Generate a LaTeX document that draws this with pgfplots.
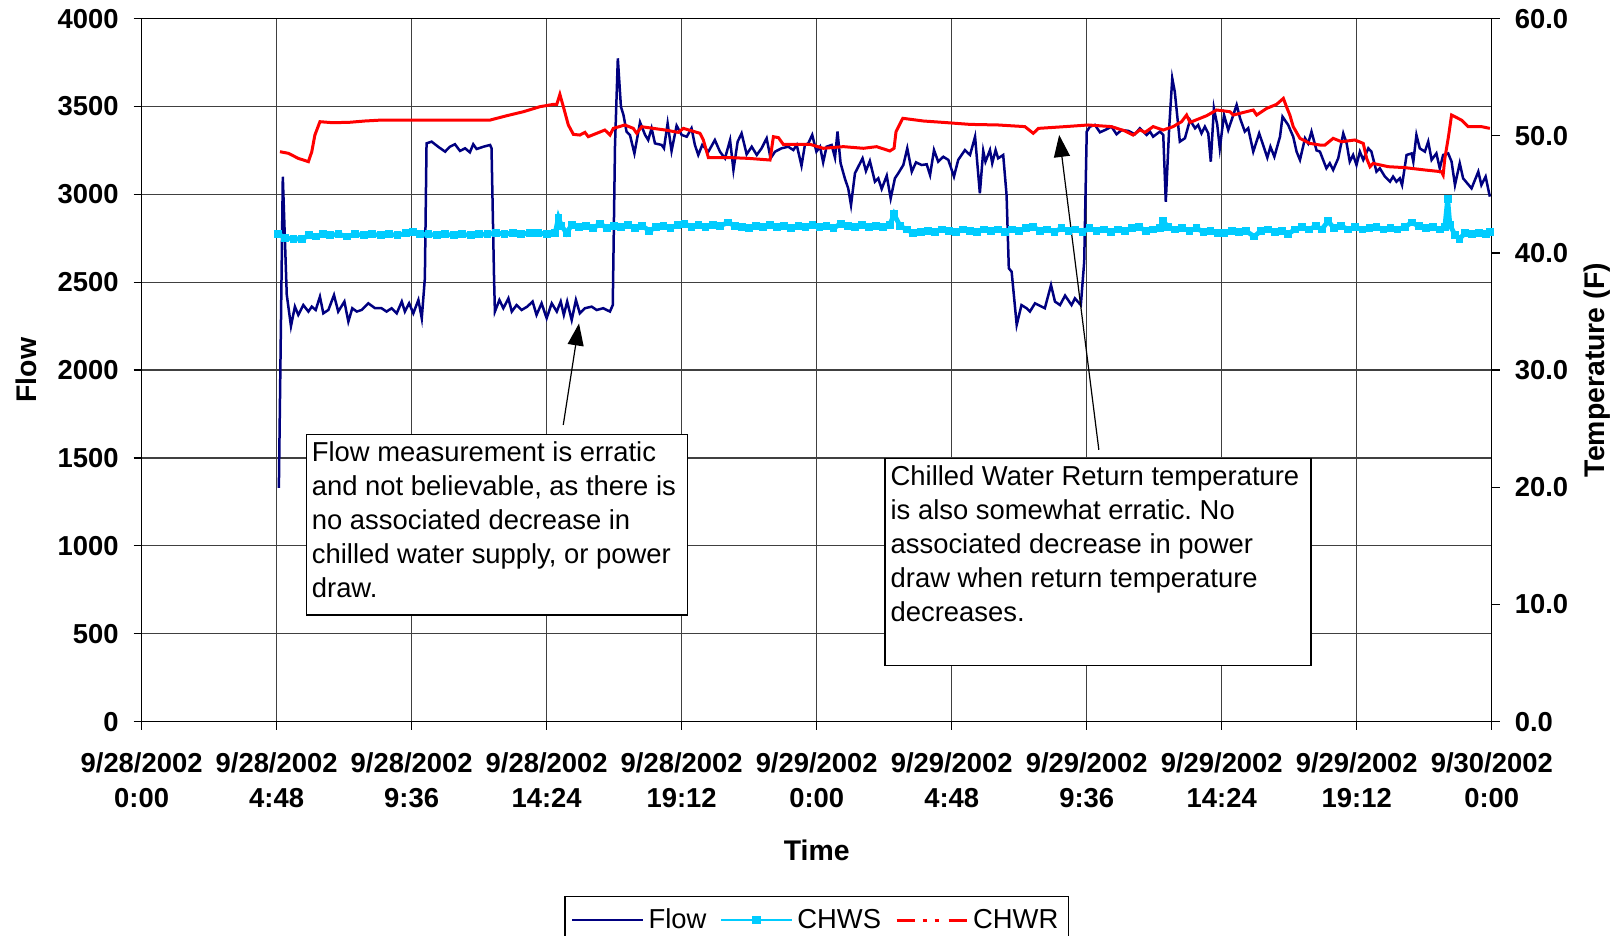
\documentclass[border=0pt]{standalone}
\usepackage{fontspec}
\setmainfont{Liberation Sans}
\usepackage{pgfplots}
\pgfplotsset{compat=1.18}
\usetikzlibrary{arrows.meta}
\definecolor{flowc}{HTML}{000080}
\definecolor{chws}{HTML}{00CCFF}
\definecolor{chwr}{HTML}{FF0000}
\newcommand{\tickfont}{\fontsize{13.7}{17.5}\selectfont\bfseries}
\newcommand{\labfont}{\fontsize{14.2}{17}\selectfont\bfseries}
\newcommand{\annfont}{\fontsize{13.7}{17}\selectfont}
\frenchspacing
\pgfplotsset{
  legline/.style={legend image code/.code={\draw[##1] (0pt,0pt) -- (35.5pt,0pt);}},
  legmark/.style={legend image code/.code={\draw[##1] (0pt,0pt) -- (35.5pt,0pt); \fill[chws] (16pt,-1.7pt) rectangle (19.5pt,1.7pt);}},
  legdash/.style={legend image code/.code={\draw[##1, dash pattern=on 9pt off 4pt on 2pt off 4pt on 2pt off 5pt] (0pt,0pt) -- (35.5pt,0pt);}},
}

\pgfplotstableread{
h f
4.88 1330
5.02 3100
5.16 2430
5.31 2250
5.45 2361
5.57 2314
5.75 2370
5.93 2333
6.05 2361
6.19 2342
6.34 2418
6.46 2323
6.64 2342
6.84 2427
6.99 2333
7.21 2390
7.35 2276
7.49 2352
7.65 2333
7.82 2342
8.06 2380
8.30 2352
8.53 2352
8.71 2333
8.89 2352
9.07 2323
9.25 2390
9.36 2333
9.51 2380
9.66 2323
9.84 2399
9.96 2295
10.07 2522
10.13 3290
10.31 3300
10.55 3270
10.79 3243
10.96 3271
11.14 3285
11.32 3247
11.50 3262
11.67 3239
11.79 3285
11.91 3258
12.15 3271
12.39 3281
12.44 3262
12.53 2522
12.56 2333
12.72 2399
12.86 2352
13.04 2408
13.16 2333
13.33 2370
13.51 2342
13.71 2361
13.90 2390
14.04 2314
14.22 2380
14.40 2295
14.58 2380
14.76 2333
14.90 2390
15.01 2314
15.13 2390
15.29 2285
15.44 2399
15.58 2323
15.76 2352
16.00 2361
16.18 2342
16.41 2352
16.65 2333
16.75 2370
16.83 3281
16.93 3774
17.04 3499
17.13 3452
17.24 3357
17.36 3338
17.52 3233
17.72 3410
17.90 3338
18.01 3309
18.13 3376
18.25 3290
18.49 3281
18.57 3262
18.70 3404
18.84 3247
19.02 3391
19.20 3338
19.38 3328
19.55 3376
19.67 3281
19.79 3224
19.93 3281
20.15 3243
20.38 3309
20.56 3243
20.74 3205
20.92 3309
21.04 3139
21.19 3300
21.33 3347
21.51 3228
21.69 3271
21.87 3224
22.04 3262
22.22 3319
22.36 3205
22.52 3243
22.75 3262
22.99 3271
23.17 3252
23.29 3281
23.46 3163
23.58 3281
23.70 3290
23.84 3338
23.99 3243
24.12 3271
24.23 3182
24.35 3271
24.53 3281
24.65 3209
24.74 3357
24.85 3177
25.00 3091
25.12 3034
25.22 2939
25.36 3120
25.48 3158
25.63 3205
25.75 3133
25.89 3190
26.07 3072
26.19 3091
26.31 3031
26.49 3106
26.63 2977
26.78 3091
26.90 3120
27.08 3167
27.22 3262
27.38 3129
27.53 3182
27.73 3167
27.91 3171
28.03 3110
28.17 3252
28.32 3186
28.50 3214
28.68 3196
28.88 3101
29.03 3196
29.27 3252
29.45 3224
29.63 3328
29.80 3006
29.92 3247
30.00 3186
30.16 3252
30.24 3177
30.36 3252
30.45 3205
30.63 3224
30.75 2996
30.83 2579
30.93 2560
31.11 2257
31.28 2370
31.46 2352
31.58 2333
31.76 2380
32.11 2352
32.33 2484
32.47 2390
32.65 2370
32.83 2424
33.06 2370
33.18 2408
33.39 2370
33.51 2617
33.60 3357
33.71 3385
33.89 3395
34.07 3353
34.25 3366
34.48 3385
34.66 3342
34.84 3366
35.08 3361
35.31 3342
35.49 3376
35.73 3338
35.85 3357
35.96 3328
36.20 3357
36.32 3338
36.41 2958
36.53 3376
36.64 3660
36.73 3584
36.91 3300
37.09 3319
37.27 3423
37.45 3376
37.56 3395
37.68 3347
37.80 3385
37.92 3347
38.01 3186
38.12 3490
38.24 3395
38.33 3262
38.48 3452
38.63 3366
38.93 3509
39.05 3433
39.22 3357
39.34 3376
39.52 3243
39.73 3347
39.87 3281
40.02 3209
40.13 3271
40.27 3214
40.47 3328
40.56 3442
40.76 3395
40.94 3328
41.06 3243
41.18 3196
41.36 3319
41.47 3290
41.59 3357
41.77 3250
41.89 3243
42.12 3148
42.24 3177
42.36 3139
42.54 3205
42.72 3347
42.84 3290
42.95 3186
43.07 3224
43.19 3167
43.31 3243
43.43 3196
43.61 3262
43.72 3243
43.90 3129
44.02 3148
44.20 3101
44.38 3072
44.49 3101
44.61 3072
44.73 3091
44.81 3053
44.97 3224
45.15 3233
45.21 3186
45.32 3338
45.44 3262
45.62 3243
45.74 3300
45.86 3196
46.03 3233
46.15 3148
46.27 3224
46.45 3233
46.57 3186
46.69 3053
46.86 3177
46.98 3091
47.28 3034
47.52 3129
47.63 3053
47.78 3101
47.93 2987
}\flowdata

\pgfplotstableread{
h t
4.86 41.6
5.10 41.3
5.40 41.2
5.70 41.2
5.95 41.5
6.20 41.4
6.45 41.6
6.70 41.5
7.00 41.6
7.30 41.4
7.60 41.6
7.90 41.5
8.20 41.6
8.50 41.5
8.80 41.6
9.10 41.5
9.40 41.7
9.65 41.8
9.90 41.6
10.20 41.6
10.50 41.5
10.80 41.6
11.10 41.5
11.40 41.6
11.70 41.5
12.00 41.6
12.30 41.6
12.60 41.7
12.90 41.6
13.20 41.7
13.50 41.6
13.80 41.7
14.10 41.7
14.40 41.6
14.70 41.7
14.82 43.0
14.93 42.3
15.11 41.7
15.29 42.4
15.55 42.2
15.80 42.3
16.05 42.1
16.30 42.5
16.55 42.1
16.80 42.3
17.05 42.2
17.30 42.4
17.55 42.1
17.80 42.3
18.05 41.9
18.30 42.2
18.55 42.3
18.80 42.1
19.05 42.4
19.30 42.5
19.55 42.2
19.80 42.4
20.05 42.2
20.30 42.4
20.55 42.3
20.85 42.6
21.10 42.3
21.35 42.2
21.60 42.1
21.85 42.3
22.10 42.2
22.35 42.4
22.60 42.2
22.85 42.3
23.10 42.1
23.35 42.3
23.60 42.2
23.85 42.4
24.10 42.2
24.35 42.3
24.60 42.1
24.85 42.5
25.10 42.3
25.35 42.2
25.60 42.4
25.85 42.2
26.10 42.3
26.35 42.2
26.60 42.4
26.75 43.3
26.96 42.3
27.20 42.0
27.43 41.7
27.70 41.8
27.95 41.9
28.20 41.8
28.45 42.0
28.70 41.9
28.95 41.8
29.20 42.0
29.45 41.9
29.70 41.8
29.95 42.0
30.20 41.9
30.45 42.0
30.70 41.8
30.95 42.0
31.20 41.9
31.45 42.1
31.70 42.2
31.95 41.9
32.20 42.0
32.45 41.8
32.70 42.1
32.95 41.9
33.20 42.0
33.45 41.8
33.70 42.1
33.95 41.9
34.20 42.0
34.45 41.8
34.70 42.0
34.95 41.9
35.20 42.1
35.45 42.2
35.70 41.9
35.95 42.0
36.20 42.1
36.32 42.7
36.50 42.2
36.75 42.0
37.00 42.1
37.25 41.9
37.50 42.1
37.75 41.8
38.00 41.9
38.25 41.7
38.50 41.7
38.75 41.9
39.00 41.8
39.25 41.9
39.55 41.4
39.80 41.9
40.05 42.0
40.30 41.8
40.55 41.9
40.75 41.6
41.00 42.0
41.25 42.2
41.50 42.0
41.75 42.3
41.95 42.0
42.18 42.7
42.40 42.1
42.65 42.3
42.90 42.0
43.15 42.2
43.40 42.0
43.65 42.1
43.90 42.2
44.15 42.0
44.40 42.1
44.65 42.0
44.90 42.2
45.15 42.6
45.40 42.3
45.65 42.1
45.90 42.2
46.15 42.0
46.33 42.2
46.43 44.6
46.51 42.4
46.70 41.5
46.85 41.2
47.05 41.7
47.30 41.6
47.55 41.7
47.80 41.6
47.93 41.8
}\chwsdata

\pgfplotstableread{
h t
4.92 48.64
5.22 48.50
5.57 48.07
5.93 47.79
6.05 48.64
6.16 50.06
6.34 51.20
6.76 51.12
7.35 51.14
7.94 51.26
8.53 51.34
10.79 51.34
12.39 51.34
12.98 51.71
13.57 52.05
14.16 52.48
14.64 52.68
14.76 52.68
14.87 53.53
15.01 52.34
15.17 50.92
15.35 50.12
15.58 50.06
15.76 50.29
15.88 49.92
16.18 50.21
16.47 50.49
16.65 50.06
16.77 50.63
17.18 50.92
17.48 50.63
17.60 50.21
17.78 50.77
18.61 50.49
19.08 50.29
19.26 50.63
19.85 50.21
19.97 49.64
20.15 48.13
20.98 48.13
21.57 48.07
22.34 47.93
22.46 49.92
22.64 49.84
22.81 49.27
23.76 49.27
24.23 48.93
24.95 49.07
25.66 48.93
26.13 49.07
26.60 48.70
26.75 48.93
26.82 50.35
27.06 51.49
27.79 51.26
28.50 51.14
29.45 50.97
30.45 50.92
31.40 50.78
31.70 50.21
31.88 50.63
32.83 50.78
33.65 50.92
34.48 50.78
34.96 50.41
35.25 50.06
35.49 50.50
35.67 50.29
35.96 50.78
36.32 50.49
36.67 50.78
36.97 51.20
37.15 51.77
37.27 51.14
37.86 51.71
38.22 52.20
38.69 52.05
38.81 51.77
39.52 52.20
39.64 51.77
40.00 52.34
40.35 52.68
40.59 53.19
40.70 52.48
40.82 51.77
40.94 50.78
41.18 49.78
41.53 49.35
41.89 49.21
42.07 49.21
42.36 49.78
42.66 49.49
43.13 49.64
43.43 49.35
43.55 48.07
43.67 47.36
43.78 47.64
44.32 47.36
44.91 47.28
45.62 47.08
46.21 46.93
46.27 46.65
46.33 48.07
46.45 49.78
46.57 51.77
46.92 51.34
47.16 50.78
47.63 50.78
47.93 50.63
}\chwrdata

\begin{document}
\begin{tikzpicture}
\pgfplotsset{
  common/.style={
    scale only axis, width=675.1pt, height=351.5pt,
    at={(0,0)}, anchor=south west,
    xmin=0, xmax=48,
    tick align=outside, major tick length=4pt,
    every tick label/.append style={font=\tickfont},
    /pgf/number format/assume math mode=true,
    /pgf/number format/1000 sep={},
    axis line style={black, line width=0.6pt},
    every tick/.style={black, line width=0.6pt},
  }
}
\begin{axis}[common,
  ymin=0, ymax=4000, ytick={0,500,...,4000},
  xtick={0,4.8,9.6,14.4,19.2,24,28.8,33.6,38.4,43.2,48},
  xticklabels={{9/28/2002\\0:00},{9/28/2002\\4:48},{9/28/2002\\9:36},{9/28/2002\\14:24},{9/28/2002\\19:12},{9/29/2002\\0:00},{9/29/2002\\4:48},{9/29/2002\\9:36},{9/29/2002\\14:24},{9/29/2002\\19:12},{9/30/2002\\0:00}},
  xticklabel style={align=center, yshift=-8pt},
  yticklabel style={xshift=-4pt},
  tick pos=left,
  grid=major,
  major grid style={black!75, line width=0.6pt},
  xlabel={Time}, ylabel={Flow},
  every axis x label/.style={at={(axis description cs:0.5,-0.1827)}, anchor=center, font=\labfont},
  every axis y label/.style={at={(axis description cs:-0.0856,0.5)}, anchor=center, rotate=90, font=\labfont},
]
\addplot[flowc, line width=1.25pt] table[x=h, y=f] {\flowdata};
\end{axis}

\begin{axis}[common,
  ymin=0, ymax=60, ytick={0,10,...,60},
  axis x line=none, axis y line*=right,
  yticklabel style={/pgf/number format/.cd, fixed, fixed zerofill, precision=1, /tikz/xshift=4pt},
  ylabel={Temperature (F)},
  every axis y label/.style={at={(axis description cs:1.0779,0.5)}, anchor=center, rotate=90, font=\labfont},
  legend style={at={(axis description cs:0.5,-0.2481)}, anchor=north, legend columns=3,
    draw=black, line width=0.6pt, fill=white,
    font=\fontsize{13.7}{16}\selectfont, inner xsep=3pt, inner ysep=4pt,
    /tikz/every even column/.append style={column sep=5pt}},
  legend cell align=left,
]
\addlegendimage{flowc, line width=1.25pt, legline}
\addlegendentry{Flow}
\addlegendimage{chws, line width=1pt, legmark}
\addlegendentry{CHWS}
\addlegendimage{chwr, line width=1.5pt, legdash}
\addlegendentry{CHWR}

\addplot[chws, line width=2.4pt, mark=square*, mark size=1.7pt, mark options={line width=0pt}, forget plot] table[x=h, y=t] {\chwsdata};
\addplot[chwr, line width=1.5pt, forget plot] table[x=h, y=t] {\chwrdata};

\draw[black, line width=0.6pt, fill=white] (axis cs:5.855,24.47) rectangle (axis cs:19.41,9.10);
\node[anchor=north west, align=left, inner xsep=2.6pt, inner ysep=3.4pt, font=\annfont] at (axis cs:5.855,24.47)
  {Flow measurement is erratic\\and not believable, as there is\\no associated decrease in\\chilled water supply, or power\\draw.};
\draw[black, line width=0.6pt, fill=white] (axis cs:26.43,22.43) rectangle (axis cs:41.57,4.76);
\node[anchor=north west, align=left, inner xsep=2.6pt, inner ysep=3.4pt, font=\annfont] at (axis cs:26.43,22.43)
  {Chilled Water Return temperature\\is also somewhat erratic. No\\associated decrease in power\\draw when return temperature\\decreases.};
\draw[-{Triangle[length=11pt,width=8pt]}, line width=0.6pt] (axis cs:14.99,25.32) -- (axis cs:15.55,33.98);
\draw[-{Triangle[length=11pt,width=8pt]}, line width=0.6pt] (axis cs:34.03,23.2) -- (axis cs:32.62,50.07);
\end{axis}
\pgfresetboundingbox
\useasboundingbox (-70.8pt,-107.2pt) rectangle (739.7pt,360.8pt);
\end{tikzpicture}
\end{document}
